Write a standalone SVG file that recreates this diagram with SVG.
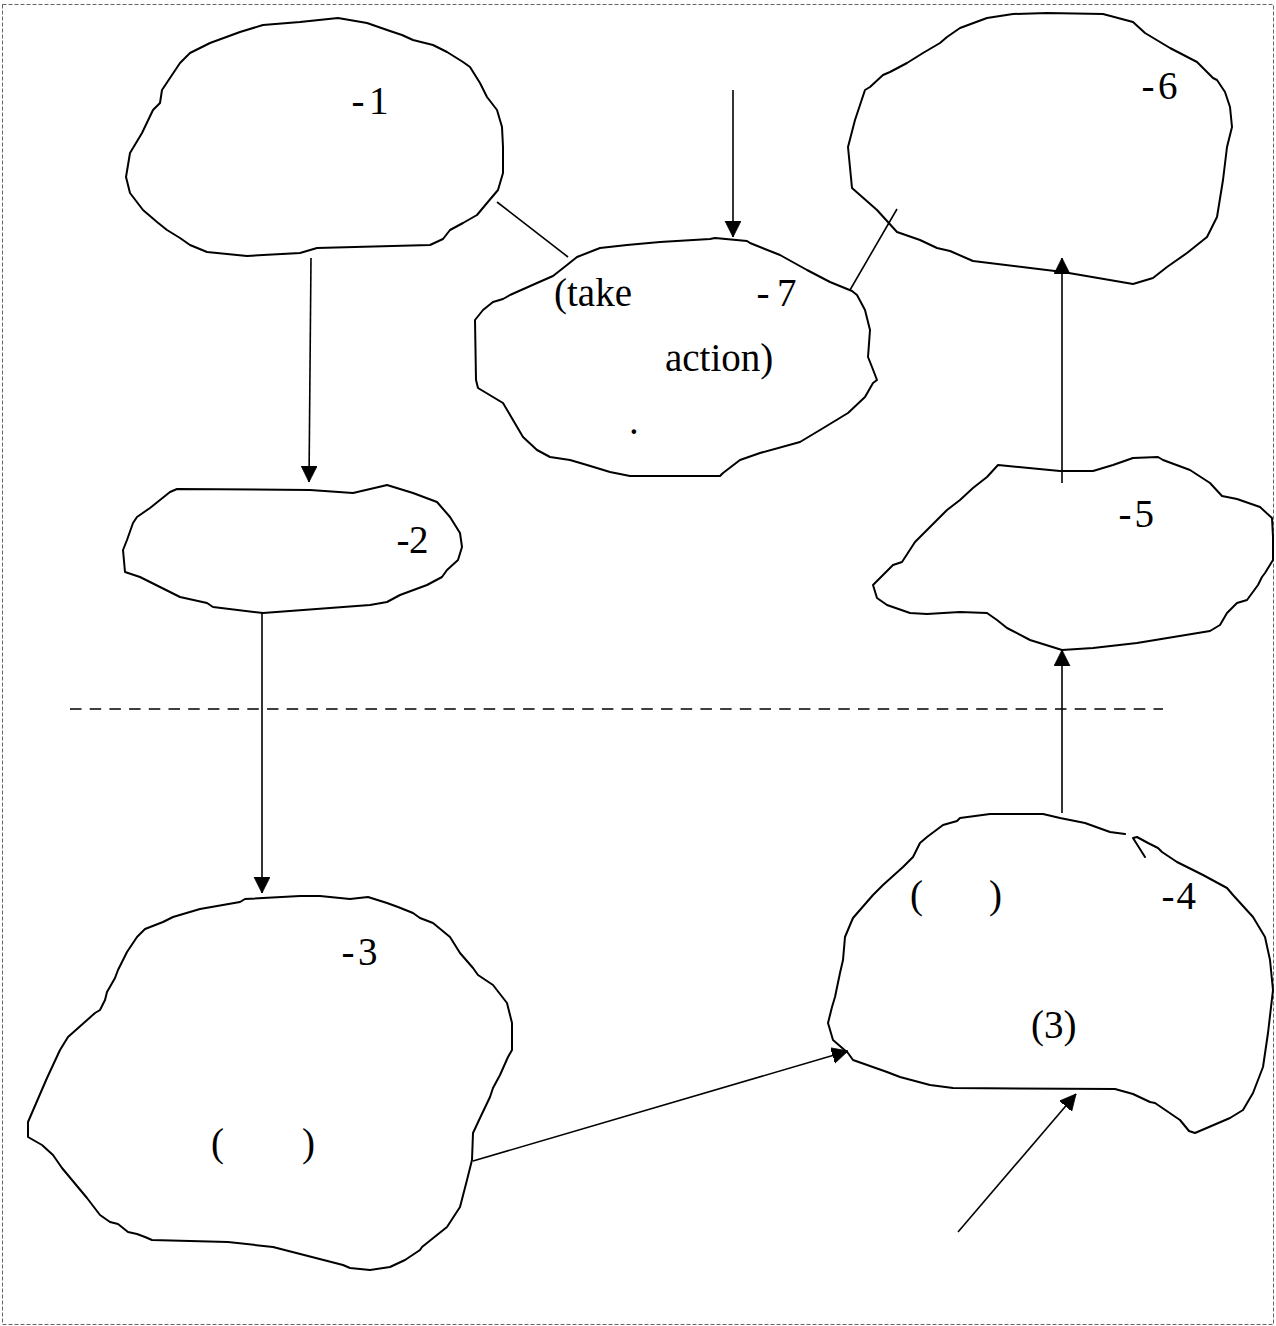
<svg xmlns="http://www.w3.org/2000/svg" width="1276" height="1326" viewBox="0 0 1276 1326">
<style>
.blob{fill:none;stroke:#000;stroke-width:2;stroke-linejoin:round;stroke-linecap:round}
.con{fill:none;stroke:#000;stroke-width:1.6}
.lbl{font-family:"Liberation Serif","Times New Roman",serif;font-size:39px;fill:#000}
</style>
<defs>
<marker id="ah" markerUnits="userSpaceOnUse" markerWidth="18" markerHeight="18" refX="16" refY="8" orient="auto">
<path d="M0,0 L16,8 L0,16 z" fill="#000" stroke="#000" stroke-width="0.8" stroke-linejoin="miter"/>
</marker>
</defs>
<rect x="2.5" y="4.5" width="1271" height="1320" fill="none" stroke="#666" stroke-width="1" stroke-dasharray="4 2"/>
<g id="node1">
<path class="blob" d="M338,18 L367,23 L390,31 L402,35 L413,40 L433,45 L447,52 L463,62 L470,67 L480,83 L487,97 L497,110 L502,127 L503,147 L503,173 L498,190 L487,203 L477,215 L463,223 L450,230 L443,239 L430,245 L317,248 L300,253 L247,256 L207,252 L190,245 L180,238 L167,230 L157,222 L143,210 L130,193 L126,177 L130,153 L142,133 L153,110 L160,103 L162,90 L180,63 L190,53 L210,43 L240,32 L263,25 L300,22 Z"/>
<text class="lbl" x="351.5" y="114">-<tspan x="369">1</tspan></text>
</g>
<g id="node2">
<path class="blob" d="M177,489 L310,490 L353,493 L383,486 L387,485 L413,493 L437,502 L450,517 L460,533 L462,547 L458,560 L447,570 L442,577 L427,585 L400,595 L387,602 L370,605 L263,613 L213,607 L207,603 L180,597 L140,577 L125,572 L123,550 L127,540 L133,523 L137,517 L150,508 L170,492 Z"/>
<text class="lbl" x="396.5" y="553">-<tspan x="409">2</tspan></text>
</g>
<g id="node3">
<path class="blob" d="M245,899 L240,902 L200,909 L173,917 L163,922 L145,929 L137,937 L127,952 L118,970 L115,978 L107,992 L105,1000 L100,1010 L95,1013 L68,1037 L60,1050 L47,1078 L28,1122 L28,1137 L42,1145 L53,1155 L62,1168 L87,1198 L100,1215 L110,1222 L118,1224 L128,1232 L137,1234 L145,1237 L152,1240 L228,1242 L273,1247 L343,1265 L350,1268 L370,1270 L390,1267 L405,1260 L420,1250 L422,1247 L447,1227 L460,1207 L467,1180 L472,1160 L473,1133 L480,1118 L490,1097 L493,1088 L500,1075 L508,1057 L512,1050 L512,1023 L507,1003 L493,985 L478,975 L473,968 L460,953 L450,937 L433,923 L420,918 L413,913 L398,907 L387,903 L368,897 L350,899 L320,896 L300,896 Z"/>
<text class="lbl" x="341.5" y="965">-<tspan x="358">3</tspan></text>
<text class="lbl" x="211" y="1156">(<tspan x="302">)</tspan></text>
</g>
<g id="node4">
<path class="blob" d="M1145,857 L1133,838 L1137,837 L1148,843 L1158,848 L1162,852 L1177,862 L1203,875 L1227,888 L1233,895 L1253,917 L1265,937 L1270,960 L1273,990 L1268,1033 L1263,1067 L1258,1080 L1253,1093 L1243,1110 L1230,1118 L1195,1133 L1189,1131 L1180,1120 L1155,1103 L1150,1102 L1133,1094 L1115,1089 L953,1088 L930,1085 L900,1077 L887,1072 L853,1060 L848,1053 L833,1040 L828,1023 L832,1007 L835,997 L840,973 L843,960 L845,937 L850,925 L853,918 L873,895 L883,885 L903,867 L913,857 L920,843 L927,837 L943,825 L957,821 L960,818 L990,814 L1043,814 L1060,818 L1085,823 L1110,832 L1125,834"/>
<text class="lbl" x="910" y="908">(<tspan x="989">)</tspan></text>
<text class="lbl" x="1161.5" y="909">-<tspan x="1176.5">4</tspan></text>
<text class="lbl" x="1031" y="1038">(3)</text>
</g>
<g id="node5">
<path class="blob" d="M998,465 L1060,471 L1093,471 L1113,465 L1133,458 L1158,457 L1163,460 L1190,470 L1210,483 L1222,496 L1237,499 L1260,507 L1272,518 L1273,537 L1273,560 L1265,573 L1262,577 L1258,585 L1247,600 L1237,603 L1227,613 L1220,625 L1210,631 L1137,643 L1093,648 L1062,650 L1030,640 L1007,628 L997,620 L987,613 L960,612 L927,614 L910,613 L887,605 L877,598 L873,585 L883,575 L893,565 L902,562 L915,542 L940,517 L947,510 L960,500 L973,488 L987,477 Z"/>
<text class="lbl" x="1118.5" y="527">-<tspan x="1134.5">5</tspan></text>
</g>
<g id="node6">
<path class="blob" d="M1047,13 L1103,14 L1133,22 L1145,33 L1170,48 L1197,62 L1213,78 L1217,80 L1225,92 L1230,107 L1232,127 L1227,147 L1223,180 L1217,217 L1207,237 L1187,253 L1167,267 L1153,278 L1133,284 L1063,272 L973,261 L950,251 L937,248 L920,240 L897,232 L877,210 L852,188 L848,147 L855,120 L865,90 L870,87 L883,75 L890,72 L907,63 L923,53 L940,43 L947,37 L960,28 L987,18 L1013,14 Z"/>
<text class="lbl" x="1141.5" y="99">-<tspan x="1158">6</tspan></text>
</g>
<g id="node7">
<path class="blob" d="M710,239 L715,238 L747,241 L750,243 L780,255 L807,270 L830,282 L852,291 L857,295 L865,310 L870,330 L868,357 L872,367 L877,380 L873,383 L865,397 L848,413 L820,430 L800,442 L760,453 L740,460 L723,473 L720,476 L630,476 L610,472 L587,465 L570,460 L550,457 L537,450 L523,437 L513,420 L503,403 L478,388 L476,380 L475,320 L483,310 L493,302 L503,299 L510,295 L537,283 L553,276 L567,265 L577,257 L600,248 L627,245 L660,242 Z"/>
<text class="lbl" x="554" y="306">(take</text>
<text class="lbl" x="756.5" y="306">-<tspan x="777">7</tspan></text>
<text class="lbl" x="665" y="371">action)</text>
<text class="lbl" x="629" y="434">.</text>
</g>
<g id="connectors">
<line class="con" x1="311" y1="258" x2="309" y2="482" marker-end="url(#ah)"/>
<line class="con" x1="262" y1="613" x2="262" y2="893" marker-end="url(#ah)"/>
<line class="con" x1="473" y1="1161" x2="848" y2="1051" marker-end="url(#ah)"/>
<line class="con" x1="958" y1="1232" x2="1076" y2="1094" marker-end="url(#ah)"/>
<line class="con" x1="1062" y1="813" x2="1062" y2="650" marker-end="url(#ah)"/>
<line class="con" x1="1062" y1="483" x2="1062" y2="258" marker-end="url(#ah)"/>
<line class="con" x1="733" y1="90" x2="733" y2="237" marker-end="url(#ah)"/>
<line class="con" x1="497" y1="202" x2="568" y2="257"/>
<line class="con" x1="850" y1="290" x2="897" y2="209"/>
<line class="con" x1="70" y1="709" x2="1163" y2="709" stroke-dasharray="11.5 8.2"/>
</g>
</svg>
